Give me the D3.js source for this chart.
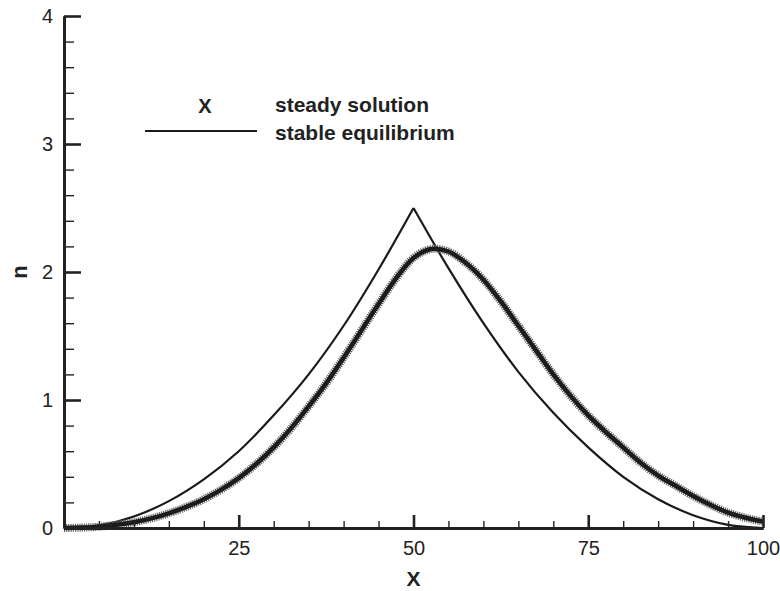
<!DOCTYPE html>
<html>
<head>
<meta charset="utf-8">
<script src="https://cdn.jsdelivr.net/npm/d3@7"></script>
<style>
  body { margin: 0; background: #fff; }
  svg { display: block; font-family: "Liberation Sans", Arial, sans-serif; }
  .tick text { font-size: 20px; fill: #222; }
</style>
</head>
<body>
<svg id="chart"></svg>
<script>
// data
var xSteady = [0, 2.5, 5, 7.5, 10, 12.5, 15, 17.5, 20, 22.5, 25, 27.5, 30, 32.5, 35, 37.5, 40, 42.5, 45, 47.5,
               50, 52.5, 55, 57.5, 60, 62.5, 65, 67.5, 70, 72.5, 75, 77.5, 80, 82.5, 85, 87.5, 90, 92.5, 95, 97.5, 100];
var nSteady = [0, 0.003, 0.01, 0.025, 0.045, 0.075, 0.115, 0.165, 0.225, 0.3, 0.39, 0.5, 0.63, 0.78, 0.95, 1.13, 1.33, 1.54, 1.75, 1.95,
               2.11, 2.18, 2.16, 2.07, 1.94, 1.77, 1.58, 1.39, 1.20, 1.03, 0.88, 0.75, 0.63, 0.51, 0.41, 0.33, 0.25, 0.18, 0.12, 0.08, 0.05];

var xStable = [0, 5, 10, 15, 20, 25, 30, 35, 40, 45, 50, 55, 60, 65, 70, 75, 80, 85, 90, 95, 100];
var nStable = [0, 0.02, 0.09, 0.21, 0.38, 0.6, 0.88, 1.2, 1.58, 2.02, 2.5, 2.03, 1.6, 1.22, 0.9, 0.63, 0.4, 0.225, 0.1, 0.025, 0];

var xMajor = [25, 50, 75, 100];
var xMinor = [5, 10, 15, 20, 30, 35, 40, 45, 55, 60, 65, 70, 80, 85, 90, 95];
var yMajor = [0, 1, 2, 3, 4];
var yMinor = [0.2, 0.4, 0.6, 0.8, 1.2, 1.4, 1.6, 1.8, 2.2, 2.4, 2.6, 2.8, 3.2, 3.4, 3.6, 3.8];

var legendNames = ["steady solution", "stable equilibrium"];

var size = { width: 780, height: 591 };

var svg = d3.select("#chart")
  .attr("width", size.width)
  .attr("height", size.height);

var x = d3.scaleLinear().domain([0, 100]).range([64, 763]);
var y = d3.scaleLinear().domain([0, 4]).range([528, 16]);

var steady = xSteady.map(function(d, i){ return { x: d, n: nSteady[i] }; });
var stable = xStable.map(function(d, i){ return { x: d, n: nStable[i] }; });

var line = d3.line()
  .x(function(d){ return x(d.x); })
  .y(function(d){ return y(d.n); })
  .curve(d3.curveCatmullRom);

// stable equilibrium, two branches meeting at the cusp
var left = stable.filter(function(d){ return d.x <= 50; });
var right = stable.filter(function(d){ return d.x >= 50; });
[left, right].forEach(function(part){
  svg.append("path")
    .datum(part)
    .attr("fill", "none")
    .attr("stroke", "#1a1a1a")
    .attr("stroke-width", 2.2)
    .attr("d", line);
});

// steady solution: dense "x" markers -> hatched thick band
svg.append("path")
  .datum(steady)
  .attr("fill", "none")
  .attr("stroke", "#666")
  .attr("stroke-width", 8)
  .attr("stroke-dasharray", "1.2 1")
  .attr("d", line);

svg.append("path")
  .datum(steady)
  .attr("fill", "none")
  .attr("stroke", "#1c1c1c")
  .attr("stroke-width", 4.5)
  .attr("d", line);

// axes (ticks point inward)
var xAxis = d3.axisBottom(x).tickValues(xMajor).tickSizeInner(-13).tickSizeOuter(0).tickPadding(13);
var xAxisMinor = d3.axisBottom(x).tickValues(xMinor).tickSizeInner(-7).tickSizeOuter(0).tickFormat("");
var yAxis = d3.axisLeft(y).tickValues(yMajor).tickSizeInner(-17).tickSizeOuter(0).tickPadding(11).tickFormat(d3.format("d"));
var yAxisMinor = d3.axisLeft(y).tickValues(yMinor).tickSizeInner(-10).tickSizeOuter(0).tickFormat("");

var gxm = svg.append("g").attr("transform", "translate(0," + y(0) + ")").call(xAxisMinor);
var gx = svg.append("g").attr("transform", "translate(0," + y(0) + ")").call(xAxis);
var gym = svg.append("g").attr("transform", "translate(" + x(0) + ",0)").call(yAxisMinor);
var gy = svg.append("g").attr("transform", "translate(" + x(0) + ",0)").call(yAxis);

[gx, gy, gxm, gym].forEach(function(g){
  g.select(".domain").attr("stroke", "#222").attr("stroke-width", 2.8);
});
gx.selectAll(".tick line").attr("stroke", "#222").attr("stroke-width", 2.6);
gy.selectAll(".tick line").attr("stroke", "#222").attr("stroke-width", 2.6);
gxm.selectAll(".tick line").attr("stroke", "#222").attr("stroke-width", 1.4);
gym.selectAll(".tick line").attr("stroke", "#222").attr("stroke-width", 1.4);
gx.selectAll(".tick text").attr("font-family", null).attr("font-size", null);
gy.selectAll(".tick text").attr("font-family", null).attr("font-size", null);

// axis titles
svg.append("text")
  .attr("x", x(50))
  .attr("y", 586)
  .attr("text-anchor", "middle")
  .attr("font-size", 21)
  .attr("font-weight", "bold")
  .attr("fill", "#222")
  .text("X");

svg.append("text")
  .attr("transform", "translate(27," + y(2) + ") rotate(-90)")
  .attr("text-anchor", "middle")
  .attr("font-size", 22)
  .attr("font-weight", "bold")
  .attr("fill", "#222")
  .text("n");

// legend
var legend = svg.append("g");
legend.append("text")
  .attr("x", 205)
  .attr("y", 113)
  .attr("text-anchor", "middle")
  .attr("font-size", 20)
  .attr("font-weight", "bold")
  .attr("fill", "#222")
  .text("X");
legend.append("line")
  .attr("x1", 145).attr("x2", 257)
  .attr("y1", 131).attr("y2", 131)
  .attr("stroke", "#1a1a1a")
  .attr("stroke-width", 2.2);
legend.selectAll("text.name")
  .data(legendNames)
  .enter()
  .append("text")
  .attr("class", "name")
  .attr("x", 275)
  .attr("y", function(d, i){ return 112 + i * 28; })
  .attr("font-size", 21)
  .attr("font-weight", "bold")
  .attr("fill", "#222")
  .text(function(d){ return d; });
</script>
</body>
</html>
